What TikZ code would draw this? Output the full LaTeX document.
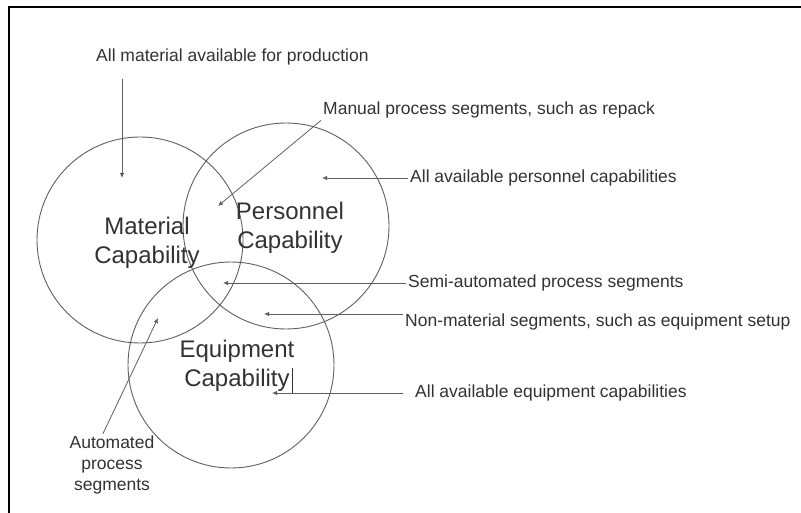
\documentclass[tikz,border=0pt]{standalone}
\usepackage{fontspec}
\setmainfont{Liberation Sans}
\usepackage{xcolor}
\usepackage{tikz}
\usetikzlibrary{arrows.meta,positioning}
\definecolor{cpline}{RGB}{95,95,95}
\definecolor{cptext}{RGB}{50,50,50}
\tikzset{
  cpcircle/.style={draw=cpline, line width=0.9pt, circle, minimum size=206pt, inner sep=0pt},
  cpbig/.style={align=center, text=cptext, font=\fontsize{24}{29}\selectfont, inner sep=0pt},
  cpnote/.style={anchor=west, text=cptext, font=\fontsize{17.5}{20}\selectfont, inner sep=2pt},
  cparrow/.style={-{Latex[length=5pt,width=4.5pt]}, line width=0.8pt, draw=cpline}
}

\begin{document}
\begin{tikzpicture}[x=1pt,y=-1pt]
  \useasboundingbox (0,0) rectangle (801,513);
  \draw[line width=2.2pt] (9,513) -- (9,7) -- (801,7);
  % the three capability circles
  \node[cpcircle] (cMat) at (140,240) {};
  \node[cpcircle] (cPer) at (286,226) {};
  \node[cpcircle] (cEqu) at (231,365) {};
  \node[cpbig] (tMatCap) at (147,243) {Material\\Capability};
  \node[cpbig] (tPerCap) at (290,228) {Personnel\\Capability};
  \node[cpbig] (tEquCap) at (237,366) {Equipment\\Capability};
  \draw[cptext, line width=0.8pt] (292,368) -- (292,393);
  % points in the regions
  \coordinate (pMat) at (122,178);
  \coordinate (pMan) at (218,206);
  \coordinate (pPer) at (322,178);
  \coordinate (pSemi) at (223,283);
  \coordinate (pNon) at (264,314);
  \coordinate (pEqu) at (272,393);
  \coordinate (pAuto) at (158,318);
  % notes
  \node[cpnote] (tAll) at (94,57) {All material available for production};
  \node[cpnote] (tMan) at (321,110) {Manual process segments, such as repack};
  \node[cpnote] (tPer) at (408,178) {All available personnel capabilities};
  \node[cpnote] (tSemi) at (406,283) {Semi-automated process segments};
  \node[cpnote] (tNon) at (403,322) {Non-material segments, such as equipment setup};
  \node[cpnote] (tEqu) at (413,393) {All available equipment capabilities};
  \node[text=cptext, font=\fontsize{17.5}{21}\selectfont, align=center, inner sep=2pt] (tAuto) at (112,465) {Automated\\process\\segments};
  \draw[cparrow, shorten <=12pt] (tAll.south -| pMat) -- (pMat);
  \draw[cparrow] (tMan.south west) -- (pMan);
  \draw[cparrow] (tPer.west) -- (pPer);
  \draw[cparrow] (tSemi.west) -- (pSemi);
  \draw[cparrow] (pNon -| tNon.west) -- (pNon);
  \draw[cparrow, shorten <=10pt] (tEqu.west) -- (pEqu);
  \draw[cparrow] ([xshift=-9pt]tAuto.north) -- (pAuto);
\end{tikzpicture}
\end{document}
